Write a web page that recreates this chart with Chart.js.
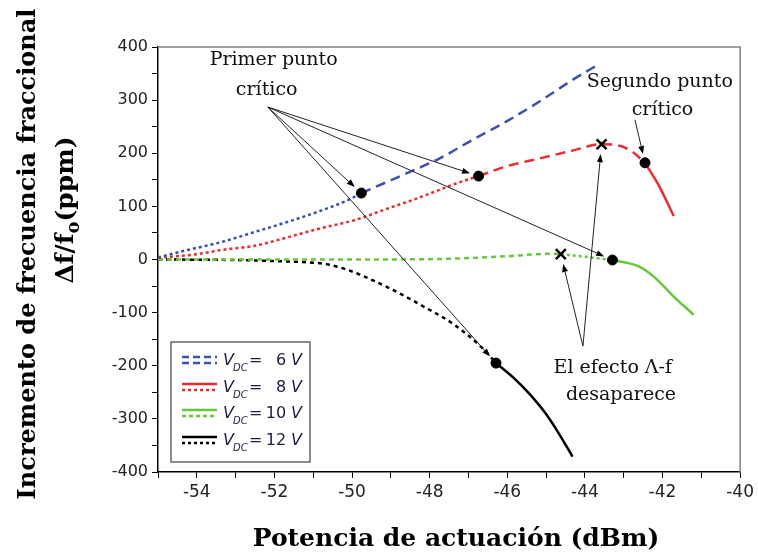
<!DOCTYPE html>
<html>
<head>
<meta charset="utf-8">
<script src="https://cdn.jsdelivr.net/npm/chart.js@4.4.1/dist/chart.umd.min.js"></script>
<style>
  body { margin: 0; background: #fff; }
  #wrap { width: 758px; height: 558px; }
</style>
</head>
<body>
<div id="wrap"><canvas id="chart" width="758" height="558"></canvas></div>
<script>
// V_DC = 6 V : dotted up to first critical point, dashed after
const v6DotX = [-55, -54.23, -53.36, -52.5, -51.65, -50.8, -50.1, -49.76];
const v6DotY = [4, 18, 33, 52, 71, 92, 112, 125];
const v6DashX = [-49.76, -48.6, -47.75, -46.9, -46.04, -45.18, -44.32, -43.68];
const v6DashY = [125, 162, 190, 225, 259, 297, 338, 366];

// V_DC = 8 V : dotted, dashed between critical points, solid at the end
const v8DotX = [-55, -54, -53.36, -52.5, -51.65, -50.8, -49.94, -49.08, -48.4, -47.75, -47.32, -46.74];
const v8DotY = [3, 10, 18, 26, 42, 59, 74, 96, 113, 131, 143, 157];
const v8DashX = [-46.74, -46.04, -45.18, -44.32, -43.57, -43.1, -42.78, -42.45];
const v8DashY = [157, 175, 190, 205, 217, 214, 203, 182];
const v8SolidX = [-42.45, -42.1, -41.71];
const v8SolidY = [182, 140, 82];

// V_DC = 10 V
const v10DashX = [-55, -52, -50, -47.75, -46.04, -44.85, -44.62];
const v10DashY = [0, 0, 0, 1, 6, 11, 10];
const v10DotX = [-44.62, -43.98, -43.29];
const v10DotY = [10, 5, -1];
const v10SolidX = [-43.29, -42.61, -42.18, -41.75, -41.2];
const v10SolidY = [-1, -13, -35, -67, -104];

// V_DC = 12 V
const v12DotX = [-55, -53, -52, -51, -50.58, -50.06, -49.12, -48.22, -47.36, -46.64, -46.29];
const v12DotY = [0, -1, -3, -6, -10, -21, -51, -86, -123, -167, -195];
const v12SolidX = [-46.29, -45.85, -45.44, -45.01, -44.65, -44.32];
const v12SolidY = [-195, -222, -252, -290, -330, -371];

// critical points (6 V, 8 V, 10 V, 12 V first; then 8 V second)
const critX = [-49.76, -46.74, -43.29, -46.29, -42.45];
const critY = [125, 157, -1, -195, 182];
// where the A-f effect vanishes (10 V, 8 V)
const vanishX = [-44.62, -43.57];
const vanishY = [10, 217];

const legendLabels = ['6', '8', '10', '12'];

const BLUE = '#3c4fb6', RED = '#ee2a2e', GREEN = '#66c83a', BLACK = '#000';

const pts = (xs, ys) => xs.map((x, i) => ({ x: x, y: ys[i] }));

function seg(xs, ys, color, dash) {
  return {
    data: pts(xs, ys),
    showLine: true,
    borderColor: color,
    backgroundColor: color,
    borderWidth: 2.5,
    borderDash: dash,
    pointRadius: 0,
    cubicInterpolationMode: 'monotone',
    order: 2
  };
}

const datasets = [
  seg(v6DotX, v6DotY, BLUE, [3, 3]),
  seg(v6DashX, v6DashY, BLUE, [10, 6]),
  seg(v8DotX, v8DotY, RED, [3, 3]),
  seg(v8DashX, v8DashY, RED, [10, 6]),
  seg(v8SolidX, v8SolidY, RED, []),
  seg(v10DashX, v10DashY, GREEN, [5, 4]),
  seg(v10DotX, v10DotY, GREEN, [3, 3]),
  seg(v10SolidX, v10SolidY, GREEN, []),
  seg(v12DotX, v12DotY, BLACK, [4, 4]),
  seg(v12SolidX, v12SolidY, BLACK, []),
  {
    data: pts(critX, critY),
    showLine: false,
    pointRadius: 5,
    borderWidth: 1,
    pointStyle: 'circle',
    backgroundColor: '#000',
    borderColor: '#000',
    order: 0
  },
  {
    data: pts(vanishX, vanishY),
    showLine: false,
    pointRadius: 7,
    pointStyle: 'crossRot',
    borderWidth: 2.5,
    borderColor: '#000',
    order: 0
  }
];

// annotation anchors in data units
const notes = [
  { text: 'Primer punto', x: -52.02, y: 375 },
  { text: 'crítico', x: -52.2, y: 319 },
  { text: 'Segundo punto', x: -42.07, y: 334 },
  { text: 'crítico', x: -42.0, y: 282 },
  { text: 'El efecto Λ-f', x: -43.28, y: -204 },
  { text: 'desaparece', x: -43.07, y: -255 }
];
const arrows = [
  { from: [-52.17, 287], to: [0, 1, 2, 3], set: 'crit' },
  { from: [-44.05, -163], to: [0, 1], set: 'vanish' },
  { from: [-42.71, 263], to: [4], set: 'crit' }
];

function arrow(ctx, x0, y0, x1, y1, gap) {
  const dx = x1 - x0, dy = y1 - y0, len = Math.hypot(dx, dy);
  const ux = dx / len, uy = dy / len;
  const tx = x1 - ux * gap, ty = y1 - uy * gap;
  const hl = 8, hw = 3;
  ctx.beginPath();
  ctx.moveTo(x0, y0);
  ctx.lineTo(tx - ux * hl, ty - uy * hl);
  ctx.stroke();
  ctx.beginPath();
  ctx.moveTo(tx, ty);
  ctx.lineTo(tx - ux * hl - uy * hw, ty - uy * hl + ux * hw);
  ctx.lineTo(tx - ux * hl + uy * hw, ty - uy * hl - ux * hw);
  ctx.closePath();
  ctx.fill();
}

const decor = {
  id: 'decor',
  afterDatasetsDraw(chart) {
    const ctx = chart.ctx, sx = chart.scales.x, sy = chart.scales.y, a = chart.chartArea;
    ctx.save();

    // top and right frame
    ctx.strokeStyle = '#808080';
    ctx.lineWidth = 1.5;
    ctx.beginPath();
    ctx.moveTo(a.left, a.top);
    ctx.lineTo(a.right, a.top);
    ctx.lineTo(a.right, a.bottom);
    ctx.stroke();

    // arrows
    ctx.strokeStyle = '#222';
    ctx.fillStyle = '#000';
    ctx.lineWidth = 1;
    arrows.forEach(ar => {
      const x0 = sx.getPixelForValue(ar.from[0]), y0 = sy.getPixelForValue(ar.from[1]);
      ar.to.forEach(i => {
        const tx = ar.set === 'crit' ? critX[i] : vanishX[i];
        const ty = ar.set === 'crit' ? critY[i] : vanishY[i];
        arrow(ctx, x0, y0, sx.getPixelForValue(tx), sy.getPixelForValue(ty), ar.set === 'crit' ? 9 : 10);
      });
    });

    // annotation text
    ctx.fillStyle = '#111';
    ctx.font = '19px "DejaVu Serif"';
    ctx.textAlign = 'center';
    ctx.textBaseline = 'middle';
    notes.forEach(n => ctx.fillText(n.text, sx.getPixelForValue(n.x), sy.getPixelForValue(n.y)));

    // legend box
    const lx = 171, ly = 342, lw = 139, lh = 120;
    ctx.fillStyle = '#fff';
    ctx.fillRect(lx, ly, lw, lh);
    ctx.strokeStyle = '#666';
    ctx.lineWidth = 1.5;
    ctx.strokeRect(lx, ly, lw, lh);
    const styles = [
      [BLUE, [7, 4], BLUE, [7, 4]],
      [RED, [], RED, [3, 3]],
      [GREEN, [], GREEN, [4, 3]],
      [BLACK, [], BLACK, [3, 3]]
    ];
    const rows = [360, 387, 413, 440];
    rows.forEach((ry, i) => {
      const s = styles[i];
      ctx.lineWidth = 2.5;
      ctx.strokeStyle = s[0];
      ctx.setLineDash(s[1]);
      ctx.beginPath(); ctx.moveTo(182, ry - 3); ctx.lineTo(217, ry - 3); ctx.stroke();
      ctx.strokeStyle = s[2];
      ctx.setLineDash(s[3]);
      ctx.beginPath(); ctx.moveTo(182, ry + 3); ctx.lineTo(217, ry + 3); ctx.stroke();
      ctx.setLineDash([]);
      ctx.fillStyle = '#1c1c3c';
      ctx.textAlign = 'left';
      ctx.textBaseline = 'alphabetic';
      ctx.font = 'italic 16px "DejaVu Sans"';
      ctx.fillText('V', 223, ry + 5);
      ctx.font = 'italic 10px "DejaVu Sans"';
      ctx.fillText('DC', 233, ry + 11);
      ctx.font = '16px "DejaVu Sans"';
      ctx.fillText('=', 249, ry + 5);
      ctx.textAlign = 'right';
      ctx.font = 'italic 16px "DejaVu Sans"';
      const vw = ctx.measureText('V').width;
      ctx.fillText('V', 302, ry + 5);
      ctx.font = '16px "DejaVu Sans"';
      ctx.fillText(legendLabels[i], 302 - vw - 5, ry + 5);
    });

    // axis titles
    ctx.fillStyle = '#000';
    ctx.textAlign = 'center';
    ctx.textBaseline = 'middle';
    ctx.font = 'bold 25px "DejaVu Serif"';
    ctx.fillText('Potencia de actuación (dBm)', 456, 539);

    ctx.save();
    ctx.translate(29, 254);
    ctx.rotate(-Math.PI / 2);
    ctx.font = 'bold 24px "DejaVu Serif"';
    ctx.fillText('Incremento de frecuencia fraccional', 0, 0);
    ctx.restore();

    ctx.save();
    ctx.translate(66, 210);
    ctx.rotate(-Math.PI / 2);
    ctx.textAlign = 'left';
    const big = 'bold 25px "DejaVu Serif"', small = 'bold 18px "DejaVu Serif"';
    ctx.font = big;
    const w1 = ctx.measureText('Δf/f').width, w3 = ctx.measureText('(ppm)').width;
    ctx.font = small;
    const w2 = ctx.measureText('o').width;
    let px = -(w1 + w2 + w3) / 2;
    ctx.font = big;
    ctx.fillText('Δf/f', px, 0);
    px += w1;
    ctx.font = small;
    ctx.fillText('o', px, 8);
    px += w2;
    ctx.font = big;
    ctx.fillText('(ppm)', px, 0);
    ctx.restore();

    ctx.restore();
  }
};

new Chart(document.getElementById('chart'), {
  type: 'scatter',
  data: { datasets: datasets },
  options: {
    responsive: false,
    animation: false,
    layout: { padding: { top: 47, right: 16, left: 0, bottom: 0 } },
    plugins: { legend: { display: false }, tooltip: { enabled: false } },
    scales: {
      x: {
        type: 'linear',
        min: -55,
        max: -40,
        afterFit: s => { s.height = 86; },
        border: { display: true, color: '#000', width: 1.5 },
        grid: { drawOnChartArea: false, drawTicks: true, tickLength: 6, color: '#000' },
        ticks: {
          stepSize: 1,
          autoSkip: false,
          maxRotation: 0,
          padding: 4,
          color: '#222',
          font: { family: 'DejaVu Sans', size: 17 },
          callback: v => (v % 2 === 0 ? v : '')
        }
      },
      y: {
        min: -400,
        max: 400,
        afterFit: s => { s.width = 158; },
        border: { display: true, color: '#000', width: 1.5 },
        grid: { drawOnChartArea: false, drawTicks: true, tickLength: 6, color: '#000' },
        ticks: {
          stepSize: 50,
          autoSkip: false,
          padding: 4,
          color: '#222',
          font: { family: 'DejaVu Sans', size: 16 },
          callback: v => (v % 100 === 0 ? v : '')
        }
      }
    }
  },
  plugins: [decor]
});
</script>
</body>
</html>
